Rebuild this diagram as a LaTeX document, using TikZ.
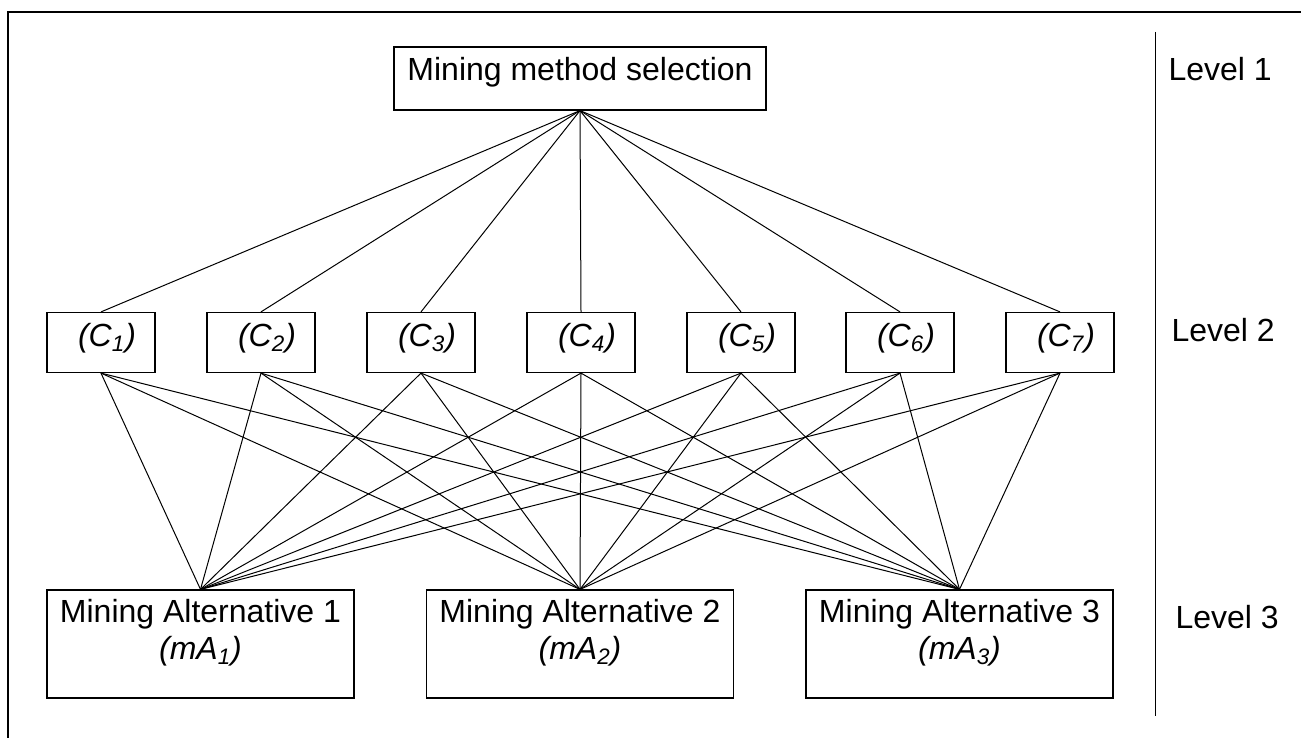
\documentclass[tikz,border=0pt]{standalone}
\usepackage{fontspec}
\setmainfont{Liberation Sans}
\usetikzlibrary{positioning}

\begin{document}
\begin{tikzpicture}[x=0.5pt, y=-0.5pt, line width=0.5pt,
	font=\fontsize{16}{18.5}\selectfont,
	every node/.style={inner sep=0pt},
	goalbox/.style={draw, line width=0.6pt, minimum width=186pt, text height=17pt, text depth=14.5pt},
	critbox/.style={draw, line width=0.6pt, minimum width=54pt, text height=17pt, text depth=13pt},
	altbox/.style={draw, line width=0.6pt, minimum width=153.5pt, minimum height=54pt},
	alttext/.style={align=center}]
			
			\useasboundingbox (0,0) rectangle (1301,738);
			
			\draw[line width=0.7pt] (8,738) -- (8,12) -- (1301,12);
			\draw (1155,32) -- (1155,716);
			
			\node[goalbox] (goal) at (580,78.5) {Mining method selection};
			
			\node[critbox] (c1) at (101,342.5) {\hspace*{6pt}\textit{(C\textsubscript{1})}};
			\node[critbox] (c2) at (261,342.5) {\hspace*{6pt}\textit{(C\textsubscript{2})}};
			\node[critbox] (c3) at (421,342.5) {\hspace*{6pt}\textit{(C\textsubscript{3})}};
			\node[critbox] (c4) at (581,342.5) {\hspace*{6pt}\textit{(C\textsubscript{4})}};
			\node[critbox] (c5) at (741,342.5) {\hspace*{6pt}\textit{(C\textsubscript{5})}};
			\node[critbox] (c6) at (900,342.5) {\hspace*{6pt}\textit{(C\textsubscript{6})}};
			\node[critbox] (c7) at (1060,342.5) {\hspace*{6pt}\textit{(C\textsubscript{7})}};
			
			\node[altbox] (ma1) at (200.5,644) {};
			\node[altbox] (ma2) at (580,644) {};
			\node[altbox] (ma3) at (959.5,644) {};
			\node[alttext, below=4.6pt of ma1.north] (ma1t) {Mining Alternative 1\\\textit{(mA\textsubscript{1})}};
			\node[alttext, below=4.6pt of ma2.north] (ma2t) {Mining Alternative 2\\\textit{(mA\textsubscript{2})}};
			\node[alttext, below=4.6pt of ma3.north] (ma3t) {Mining Alternative 3\\\textit{(mA\textsubscript{3})}};
			
			\node[anchor=west] (lev1) at (1168,69) {Level 1};
			\node[anchor=west] (lev2) at (1171,330) {Level 2};
			\node[anchor=west] (lev3) at (1175,617) {Level 3};
			
			\foreach \c in {1,...,7} {
				\draw (goal.south) -- (c\c.north);
				\foreach \a in {1,2,3} \draw (c\c.south) -- (ma\a.north);
			}
		\end{tikzpicture}
\end{document}
